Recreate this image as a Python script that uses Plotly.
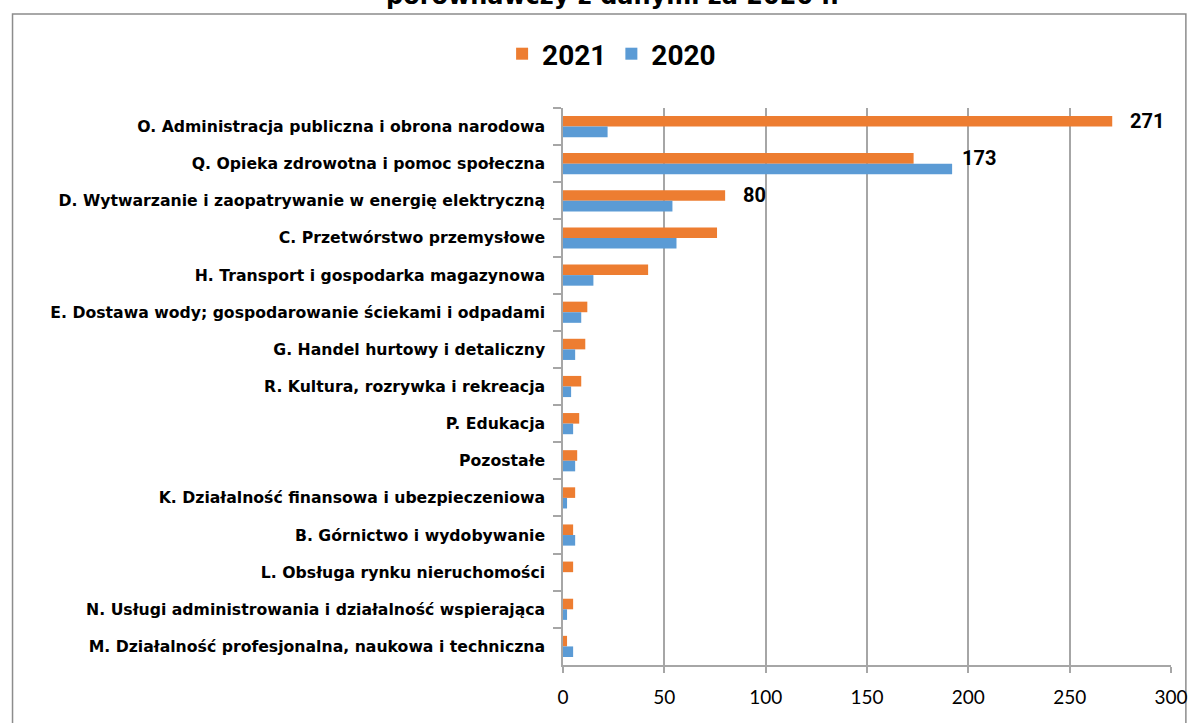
import plotly.graph_objects as go

categories = [
    "O. Administracja publiczna i obrona narodowa",
    "Q. Opieka zdrowotna i pomoc społeczna",
    "D. Wytwarzanie i zaopatrywanie w energię elektryczną",
    "C. Przetwórstwo przemysłowe",
    "H. Transport i gospodarka magazynowa",
    "E. Dostawa wody; gospodarowanie ściekami i odpadami",
    "G. Handel hurtowy i detaliczny",
    "R. Kultura, rozrywka i rekreacja",
    "P. Edukacja",
    "Pozostałe",
    "K. Działalność finansowa i ubezpieczeniowa",
    "B. Górnictwo i wydobywanie",
    "L. Obsługa rynku nieruchomości",
    "N. Usługi administrowania i działalność wspierająca",
    "M. Działalność profesjonalna, naukowa i techniczna",
]
values_2021 = [271, 173, 80, 76, 42, 12, 11, 9, 8, 7, 6, 5, 5, 5, 2]
values_2020 = [22, 192, 54, 56, 15, 9, 6, 4, 5, 6, 2, 6, 0, 2, 5]
labeled = {0: 16, 1: 46, 2: 16}  # index -> pixel shift of label
x_ticks = [0, 50, 100, 150, 200, 250, 300]
title_text = "porównawczy z danymi za 2020 r."

W, H = 1200, 723
L, R, T, B = 563, 24, 108, 58
pw, ph = W - L - R, H - T - B

def px(x):
    return (x - L) / pw

def py(y):
    return (H - B - y) / ph

ORANGE = "#ED7D31"
BLUE = "#5B9BD5"
GRID = "#A6A6A6"
CAT_FONT = "DejaVu Sans"
NUM_FONT = "Roboto"

fig = go.Figure()
fig.add_trace(go.Bar(
    y=categories, x=values_2021, name="2021", orientation="h",
    marker=dict(color=ORANGE, line=dict(width=0)),
))
fig.add_trace(go.Bar(
    y=categories, x=values_2020, name="2020", orientation="h",
    marker=dict(color=BLUE, line=dict(width=0)),
))

annotations = []
for i, shift in labeled.items():
    annotations.append(dict(
        x=values_2021[i], y=categories[i], xref="x", yref="y",
        text=str(values_2021[i]), showarrow=False,
        xanchor="left", yanchor="middle", xshift=shift, yshift=5.5,
        font=dict(family=NUM_FONT, size=20, color="#000000", weight="bold"),
    ))
annotations.append(dict(
    x=px(613), y=py(12), xref="paper", yref="paper",
    text=title_text, showarrow=False, xanchor="center", yanchor="bottom",
    font=dict(family=CAT_FONT, size=24, color="#000000", weight="bold"),
))

fig.update_layout(
    width=W, height=H,
    margin=dict(l=L, r=R, t=T, b=B),
    paper_bgcolor="white", plot_bgcolor="white",
    barmode="group", bargap=0.43, bargroupgap=0,
    showlegend=True,
    legend=dict(
        orientation="h", x=px(612), y=py(54), xref="paper", yref="paper",
        xanchor="center", yanchor="middle",
        font=dict(family=NUM_FONT, size=28, color="#000000", weight="bold"),
        itemwidth=30, traceorder="normal",
    ),
    annotations=annotations,
    shapes=[dict(
        type="rect", xref="paper", yref="paper",
        x0=px(8), x1=px(1191), y0=py(760), y1=py(14),
        line=dict(color="#8C8C8C", width=1.5), fillcolor="rgba(0,0,0,0)",
        layer="below",
    )],
    xaxis=dict(
        range=[0, 300], tickvals=x_ticks, ticktext=[str(v) for v in x_ticks],
        showgrid=True, gridcolor=GRID, gridwidth=1.5,
        showline=True, linecolor=GRID, linewidth=1.5,
        ticks="outside", ticklen=6, tickcolor=GRID, tickwidth=1.5,
        zeroline=False, ticklabelstandoff=8,
        tickfont=dict(family="Lato", size=19, color="#000000"),
    ),
    yaxis=dict(
        type="category", categoryorder="array", categoryarray=categories,
        autorange="reversed",
        showgrid=False, showline=True, linecolor=GRID, linewidth=1.5,
        ticks="outside", ticklen=8, tickcolor=GRID, tickwidth=1.5,
        tickson="boundaries", ticklabelstandoff=13,
        tickfont=dict(family=CAT_FONT, size=15.7, color="#000000", weight="bold"),
    ),
)

fig.write_html(
    "out.html",
    config={"displayModeBar": False},
    post_script="document.body.style.margin='0';document.body.style.overflow='hidden';",
)
